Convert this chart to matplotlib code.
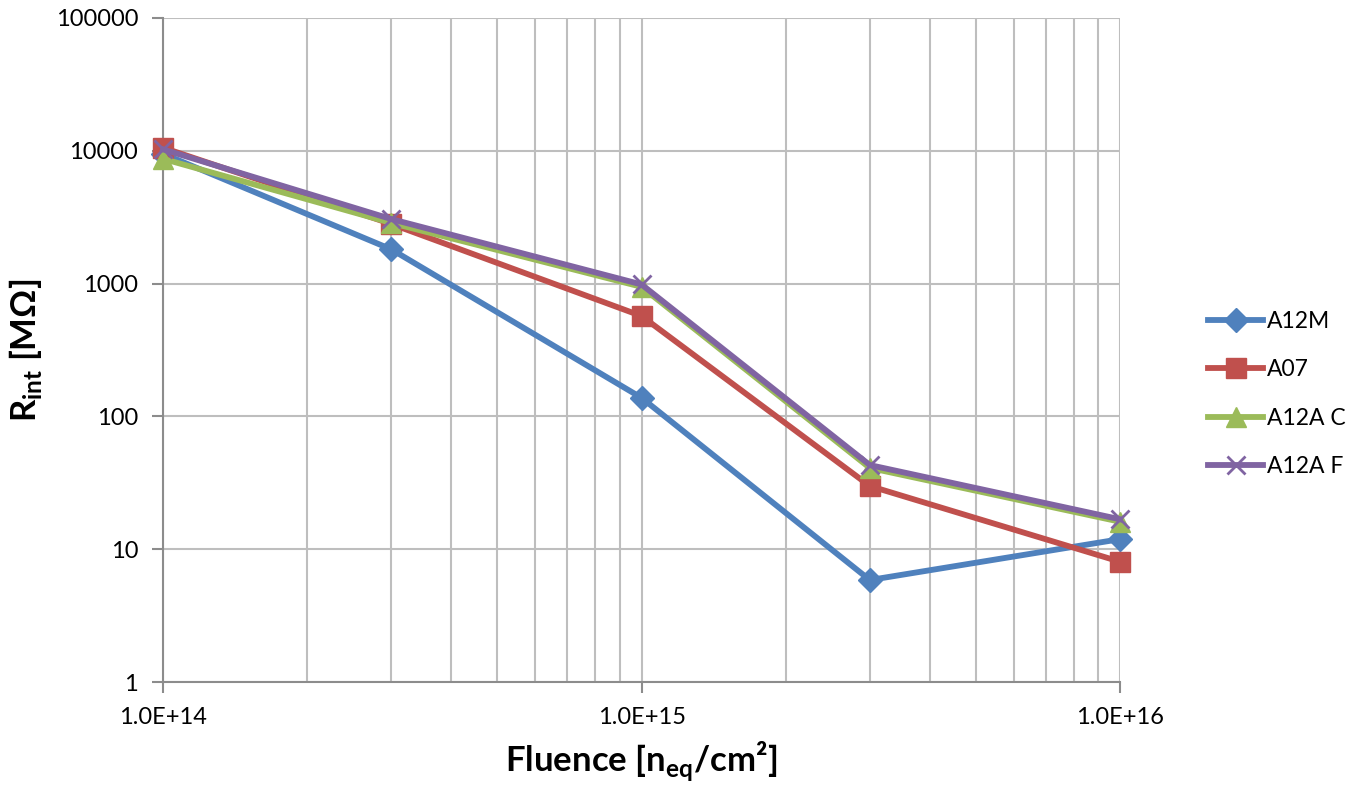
import math
import matplotlib
matplotlib.use("Agg")
import matplotlib.pyplot as plt
from matplotlib.ticker import FixedLocator, FuncFormatter, NullFormatter

plt.rcParams["font.family"] = ["Lato", "DejaVu Sans"]
plt.rcParams["mathtext.fontset"] = "custom"
plt.rcParams["mathtext.rm"] = "Lato"
plt.rcParams["mathtext.bf"] = "Lato:bold"

fluence = [1e14, 3e14, 1e15, 3e15, 1e16]

a12m = [9500, 1810, 138, 5.86, 11.9]
a07 = [10550, 2810, 570, 29.9, 8.05]
a12a_c = [8700, 2860, 945, 40.9, 16.1]
a12a_f = [10250, 3060, 985, 43, 16.8]

series = [
    ("A12M", a12m, "#4F81BD", "D"),
    ("A07", a07, "#C0504D", "s"),
    ("A12A C", a12a_c, "#9BBB59", "^"),
    ("A12A F", a12a_f, "#8064A2", "x"),
]

fig = plt.figure(figsize=(13.54, 7.88), dpi=100)
ax = fig.add_axes([0.1204, 0.1345, 0.7068, 0.8427])

for name, vals, col, mk in series:
    if mk == "x":
        ax.plot(fluence, vals, color=col, lw=4.2, marker=mk, ms=13, mew=2,
                label=name, zorder=3, clip_on=False)
    else:
        ax.plot(fluence, vals, color=col, lw=4.2, marker=mk,
                ms=14 if mk != "D" else 12, label=name, zorder=3,
                clip_on=False)

ax.set_xscale("log")
ax.set_yscale("log")
ax.set_xlim(1e14, 1e16)
ax.set_ylim(1, 100000)

ax.yaxis.set_major_locator(FixedLocator([1, 10, 100, 1000, 10000, 100000]))
ax.yaxis.set_major_formatter(FuncFormatter(lambda v, p: f"{v:.0f}"))
ax.yaxis.set_minor_formatter(NullFormatter())
ax.yaxis.set_minor_locator(FixedLocator([]))

ax.xaxis.set_major_locator(FixedLocator([1e14, 1e15, 1e16]))
ax.xaxis.set_major_formatter(FuncFormatter(
    lambda v, p: "1.0E+%d" % round(math.log10(v))))
minor_x = [m * 10 ** e for e in (14, 15) for m in range(2, 10)]
ax.xaxis.set_minor_locator(FixedLocator(minor_x))
ax.xaxis.set_minor_formatter(NullFormatter())

ax.grid(True, which="major", color="#BEBEBE", lw=1.5)
ax.grid(True, which="minor", axis="x", color="#BEBEBE", lw=1.5)
ax.set_axisbelow(True)

for side in ("top", "right"):
    ax.spines[side].set_visible(False)
for side in ("left", "bottom"):
    ax.spines[side].set_color("#8C8C8C")
    ax.spines[side].set_linewidth(1.5)

ax.tick_params(which="major", length=8, width=1.5, color="#8C8C8C",
               labelsize=17, direction="out")
ax.tick_params(axis="y", which="major", pad=10)
ax.tick_params(axis="x", which="major", pad=10)
ax.tick_params(which="minor", length=0)

ax.set_xlabel("Fluence [n$_{\\mathbf{eq}}$/cm²]", fontsize=25,
              fontweight="bold", labelpad=8)
ax.set_ylabel("R$_{\\mathbf{int}}$ [MΩ]", fontsize=25,
              fontweight="bold", labelpad=8)

fig.legend(loc="center left", bbox_to_anchor=(0.877, 0.5), frameon=False,
           fontsize=16.5, handlelength=2.4, labelspacing=1.2,
           handletextpad=0.15)

fig.savefig("out.png", dpi=100)
